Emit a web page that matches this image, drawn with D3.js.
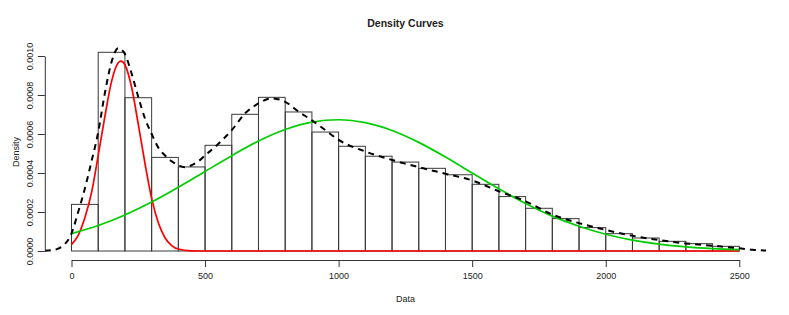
<!DOCTYPE html>
<html>
<head>
<meta charset="utf-8">
<script src="https://cdn.jsdelivr.net/npm/d3@7"></script>
<style>
  body { margin: 0; background: #fff; }
  text { font-family: "Liberation Sans", Arial, sans-serif; fill: #222; }
</style>
</head>
<body>
<svg></svg>
<script>
// histogram bins (width 100) and their densities
var binStarts = [0,100,200,300,400,500,600,700,800,900,1000,1100,1200,1300,1400,1500,1600,1700,1800,1900,2000,2100,2200,2300,2400];
var binDensity = [0.000239,0.001019,0.000786,0.00048,0.000431,0.000542,0.000701,0.000788,0.000713,0.00061,
                  0.000537,0.000486,0.000456,0.000424,0.000391,0.000342,0.000279,0.000219,0.000166,0.00012,
                  0.0000889,0.0000667,0.0000496,0.0000376,0.000024];

// kernel density (dashed black)
var kdeX = [-100,-75,-50,-25,0,25,50,75,100,125,150,175,200,225,250,275,300,325,350,375,400,425,450,475,500,550,600,650,700,750,800,850,900,950,1000,1100,1200,1300,1400,1500,1600,1700,1800,1900,2000,2100,2200,2300,2400,2500,2550,2600];
var kdeY = [0.000001,0.000004,0.000012,0.000035,0.00009,0.0002,0.00032,0.00046,0.00061,0.00081,0.00097,0.00104,0.00101,0.00091,0.00079,0.00068,0.0006,0.00053,0.00049,0.00046,0.00044,0.000429,0.00044,0.00046,0.00049,0.00055,0.00062,0.000706,0.000757,0.000783,0.000765,0.000715,0.00067,0.00062,0.00057,0.00051,0.000467,0.00043,0.000396,0.000362,0.000306,0.000255,0.000187,0.000143,0.000108,0.000078,0.000056,0.000039,0.000027,0.000014,0.000006,0.000002];

// first component (red)
var redX = [0,25,50,75,100,125,150,175,185,200,225,250,275,300,325,350,375,400,450,500,1000,1500,2000,2500];
var redY = [0.000033,0.00008,0.00017,0.0003,0.00049,0.00069,0.00087,0.000965,0.000974,0.000955,0.00084,0.00065,0.00045,0.00027,0.000145,0.000068,0.000028,0.00001,0.000001,0,0,0,0,0];

// second component (green)
var greenX = [0,100,200,300,400,500,600,700,800,900,1000,1100,1200,1300,1400,1500,1600,1700,1800,1900,2000,2100,2200,2300,2400,2500];
var greenY = [0.0000892,0.000131,0.000185,0.000251,0.000327,0.000408,0.000489,0.000564,0.000623,0.000661,0.000673,0.000658,0.000618,0.000557,0.000482,0.0004,0.000319,0.000244,0.000179,0.000127,0.0000857,0.0000557,0.0000348,0.0000209,0.000012,0.0000066];

var xTicks = [0,500,1000,1500,2000,2500];
var yTicks = [0,0.0002,0.0004,0.0006,0.0008,0.001];

var screen = { width: 789, height: 315 };

var svg = d3.select("svg")
            .attr("width", screen.width)
            .attr("height", screen.height);

var xScale = d3.scaleLinear()
               .domain([0,2500])
               .range([71.5,739.3]);
var yScale = d3.scaleLinear()
               .domain([0,0.001])
               .range([251,56]);

// plot region, used for clipping
var plot = { left: 44.8, right: 766.2, top: 18, bottom: 260 };

svg.append("clipPath")
   .attr("id","plotclip")
   .append("rect")
   .attr("x",plot.left)
   .attr("y",plot.top)
   .attr("width",plot.right-plot.left)
   .attr("height",plot.bottom-plot.top);

// histogram
svg.append("g").classed("bars",true)
   .selectAll("rect")
   .data(binStarts)
   .enter()
   .append("rect")
   .attr("x",function(d){ return xScale(d); })
   .attr("y",function(d,i){ return yScale(binDensity[i]); })
   .attr("width",function(d){ return xScale(d+100)-xScale(d); })
   .attr("height",function(d,i){ return yScale(0)-yScale(binDensity[i]); })
   .attr("fill","none")
   .attr("stroke","#3a3a3a")
   .attr("stroke-width",1);

var line = d3.line()
             .x(function(d){ return xScale(d[0]); })
             .y(function(d){ return yScale(d[1]); })
             .curve(d3.curveMonotoneX);

var curves = svg.append("g").attr("clip-path","url(#plotclip)");

curves.append("path")
      .datum(d3.zip(redX,redY))
      .attr("d",line)
      .attr("fill","none")
      .attr("stroke","#ff0000")
      .attr("stroke-width",1.7);

curves.append("path")
      .datum(d3.zip(greenX,greenY))
      .attr("d",line)
      .attr("fill","none")
      .attr("stroke","#00cd00")
      .attr("stroke-width",1.7);

curves.append("path")
      .datum(d3.zip(kdeX,kdeY))
      .attr("d",line)
      .attr("fill","none")
      .attr("stroke","#000")
      .attr("stroke-width",2)
      .attr("stroke-dasharray","6,5");

// axes
var xAxis = d3.axisBottom(xScale)
              .tickValues(xTicks)
              .tickFormat(d3.format("d"))
              .tickSize(7)
              .tickSizeOuter(0)
              .tickPadding(6);

var yAxis = d3.axisLeft(yScale)
              .tickValues(yTicks)
              .tickFormat(d3.format(".4f"))
              .tickSize(7)
              .tickSizeOuter(0);

var gx = svg.append("g").classed("xAxis",true)
            .attr("transform","translate(0,260)")
            .call(xAxis);
gx.selectAll("text").style("font-size","9px").attr("fill","#222");

var gy = svg.append("g").classed("yAxis",true)
            .attr("transform","translate(44.8,0)")
            .call(yAxis);
gy.selectAll("text")
  .style("font-size","9px")
  .attr("fill","#222")
  .attr("text-anchor","middle")
  .attr("transform","rotate(-90)")
  .attr("x",0)
  .attr("y",-12)
  .attr("dy",null);

svg.selectAll(".xAxis path, .xAxis line, .yAxis path, .yAxis line")
   .attr("stroke","#333");

// titles
svg.append("text")
   .attr("x",(plot.left+plot.right)/2)
   .attr("y",27)
   .attr("text-anchor","middle")
   .style("font-size","10.5px")
   .style("font-weight","bold")
   .text("Density Curves");

svg.append("text")
   .attr("x",(plot.left+plot.right)/2)
   .attr("y",301.5)
   .attr("text-anchor","middle")
   .style("font-size","9px")
   .text("Data");

svg.append("text")
   .attr("transform","translate(19,152) rotate(-90)")
   .attr("text-anchor","middle")
   .style("font-size","9px")
   .text("Density");
</script>
</body>
</html>
